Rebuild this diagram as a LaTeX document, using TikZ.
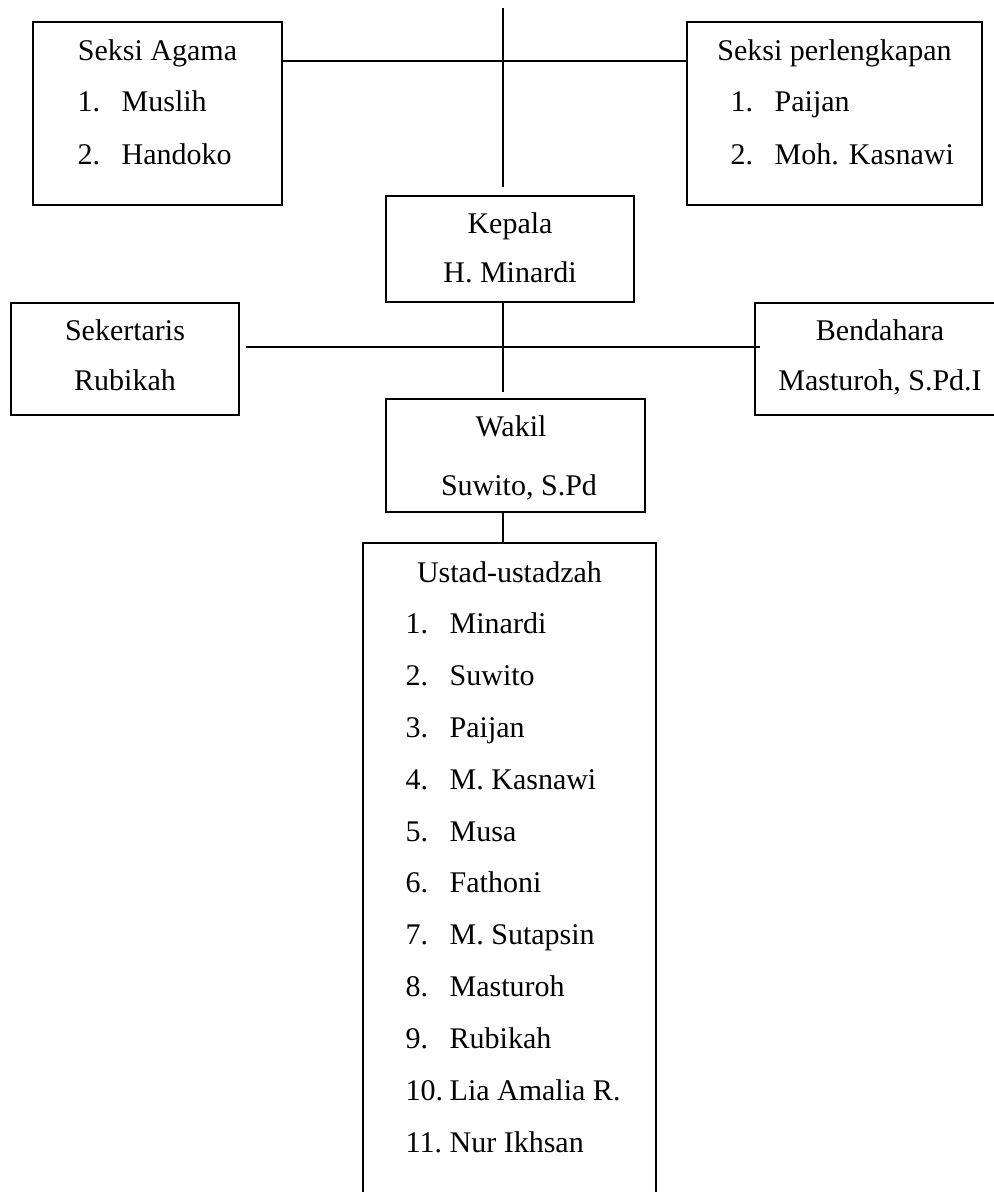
\documentclass[tikz,border=0pt]{standalone}
\usepackage{fontspec}
\setmainfont{Liberation Serif}
\tikzset{
	box/.style={draw, line width=0.7pt, inner sep=0pt},
	judul/.style={inner sep=0pt, anchor=base},
	butir/.style={inner sep=0pt, anchor=base west},
}
\newcommand{\nomor}[2]{\makebox[22pt][l]{#1}#2}
\begin{document}
\begin{tikzpicture}[x=0.5pt,y=-0.5pt,font=\fontsize{15}{18}\selectfont,line width=0.7pt]
		\useasboundingbox (0,0) rectangle (994,1192);
		% kotak
		\node[box, minimum width=124.5pt, minimum height=91.5pt] (agama) at (157.5,113.5) {};
		\node[box, minimum width=147.5pt, minimum height=91.5pt] (lengkap) at (834.5,113.5) {};
		\node[box, minimum width=124pt, minimum height=53pt] (kepala) at (510,249) {};
		\node[box, minimum width=114pt, minimum height=56pt] (sekre) at (125,359) {};
		\node[box, minimum width=125pt, minimum height=56pt] (bendahara) at (880,359) {};
		\node[box, minimum width=129.5pt, minimum height=56.5pt] (wakil) at (515.5,455.5) {};
		\node[box, minimum width=146.5pt, minimum height=338.5pt] (ustad) at (509.5,881.5) {};
		% garis
		\coordinate (puncak) at (503,8);
		\coordinate (simpul1) at (503,61);
		\coordinate (simpul2) at (503,347);
		\draw[shorten >=4pt] (puncak) -- (puncak |- kepala.north);
		\draw (agama.east |- simpul1) -- (lengkap.west |- simpul1);
		\draw[shorten >=3pt] (kepala.south -| puncak) -- (wakil.north -| puncak);
		\draw[shorten <=3pt, shorten >=-3pt] (sekre.east |- simpul2) -- (bendahara.west |- simpul2);
		\draw (wakil.south -| puncak) -- (ustad.north -| puncak);
		% teks
		\node[judul] (agamaJ) at (157.5,61) {Seksi Agama};
		\node[butir] (agama1) at (77,112) {\nomor{1.}{Muslih}};
		\node[butir] (agama2) at (77,165) {\nomor{2.}{Handoko}};
		\node[judul] (lengkapJ) at (834.5,61) {Seksi perlengkapan};
		\node[butir] (lengkap1) at (730,112) {\nomor{1.}{Paijan}};
		\node[butir] (lengkap2) at (730,165) {\nomor{2.}{Moh. Kasnawi}};
		\node[judul] (kepalaJ) at (510,234) {Kepala};
		\node[judul] (kepalaN) at (510,283) {H. Minardi};
		\node[judul] (sekreJ) at (125,340) {Sekertaris};
		\node[judul] (sekreN) at (125,390) {Rubikah};
		\node[judul] (bendaharaJ) at (880,340) {Bendahara};
		\node[judul] (bendaharaN) at (880,390) {Masturoh, S.Pd.I};
		\node[judul] (wakilJ) at (511,436) {Wakil};
		\node[judul] (wakilN) at (519,495) {Suwito, S.Pd};
		\node[judul] (ustadJ) at (509.5,582) {Ustad-ustadzah};
		\node[butir] (ustad1) at (405,633) {\nomor{1.}{Minardi}};
		\node[butir] (ustad2) at (405,685) {\nomor{2.}{Suwito}};
		\node[butir] (ustad3) at (405,737) {\nomor{3.}{Paijan}};
		\node[butir] (ustad4) at (405,789) {\nomor{4.}{M. Kasnawi}};
		\node[butir] (ustad5) at (405,841) {\nomor{5.}{Musa}};
		\node[butir] (ustad6) at (405,892) {\nomor{6.}{Fathoni}};
		\node[butir] (ustad7) at (405,944) {\nomor{7.}{M. Sutapsin}};
		\node[butir] (ustad8) at (405,996) {\nomor{8.}{Masturoh}};
		\node[butir] (ustad9) at (405,1048) {\nomor{9.}{Rubikah}};
		\node[butir] (ustad10) at (405,1100) {\nomor{10.}{Lia Amalia R.}};
		\node[butir] (ustad11) at (405,1152) {\nomor{11.}{Nur Ikhsan}};
	\end{tikzpicture}
\end{document}
